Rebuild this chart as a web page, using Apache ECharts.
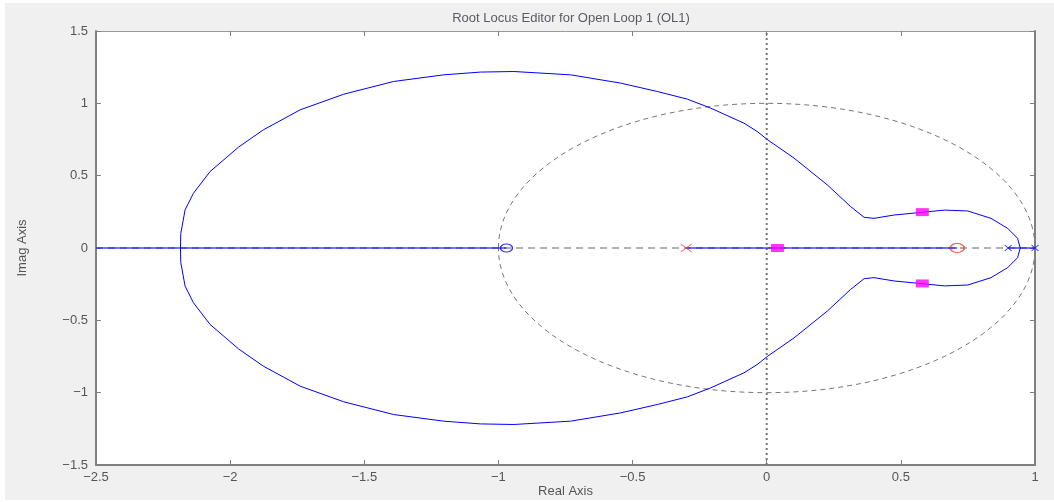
<!DOCTYPE html>
<html>
<head>
<meta charset="utf-8">
<title>Root Locus Editor for Open Loop 1 (OL1)</title>
<script src="https://cdn.jsdelivr.net/npm/echarts@6/dist/echarts.min.js"></script>
<style>
html, body { margin: 0; padding: 0; background: #ffffff; }
#echart { position: absolute; left: 5px; top: 3px; width: 1049px; height: 497px; background: #f0f0f0; }
</style>
</head>
<body>
<div id="echart"></div>
<script>
// axis ranges / ticks
var xTicks = [-2.5, -2, -1.5, -1, -0.5, 0, 0.5, 1];
var yTicks = [-1.5, -1, -0.5, 0, 0.5, 1, 1.5];

// locus branch, upper half
var upperBranch = [
	[-2.185, 0], [-2.184, 0.10], [-2.168, 0.263], [-2.137, 0.378], [-2.075, 0.528],
	[-1.969, 0.697], [-1.876, 0.817], [-1.739, 0.955], [-1.577, 1.063], [-1.391, 1.151],
	[-1.204, 1.197], [-1.067, 1.216], [-0.943, 1.220], [-0.731, 1.197], [-0.545, 1.140],
	[-0.408, 1.082], [-0.296, 1.029], [-0.209, 0.967], [-0.085, 0.863], [-0.035, 0.805],
	[0.002, 0.750], [0.102, 0.621], [0.226, 0.436], [0.313, 0.286], [0.363, 0.212],
	[0.400, 0.205], [0.475, 0.228], [0.581, 0.247], [0.662, 0.262], [0.749, 0.256],
	[0.836, 0.205], [0.898, 0.136], [0.935, 0.067], [0.945, 0]
];
// locus branch, lower half
var lowerBranch = [
	[-2.185, 0], [-2.184, -0.10], [-2.168, -0.263], [-2.137, -0.378], [-2.075, -0.528],
	[-1.969, -0.697], [-1.876, -0.817], [-1.739, -0.955], [-1.577, -1.063], [-1.391, -1.151],
	[-1.204, -1.197], [-1.067, -1.216], [-0.943, -1.220], [-0.731, -1.197], [-0.545, -1.140],
	[-0.408, -1.082], [-0.296, -1.029], [-0.209, -0.967], [-0.085, -0.863], [-0.035, -0.805],
	[0.002, -0.750], [0.102, -0.621], [0.226, -0.436], [0.313, -0.286], [0.363, -0.212],
	[0.400, -0.205], [0.475, -0.228], [0.581, -0.247], [0.662, -0.262], [0.749, -0.256],
	[0.836, -0.205], [0.898, -0.136], [0.935, -0.067], [0.945, 0]
];
// locus segments on the real axis
var realSeg1 = [[-2.5, 0], [-0.97, 0]];
var realSeg2 = [[-0.3, 0], [0.71, 0]];
var realSeg3 = [[0.9, 0], [1.0, 0]];

// reference lines
var realAxisLine = [[-2.5, 0], [1, 0]];
var imagAxisLine = [[0, -1.5], [0, 1.5]];
var unitCircle = [[0, 0, 1]]; // centre x, centre y, radius

// open loop poles / zeros
var compPoles = [[-0.3, 0]];
var compZeros = [[0.71, 0]];
var plantPoles = [[0.9, 0], [1.0, 0]];
var plantZeros = [[-0.97, 0]];
// closed loop poles
var closedPoles = [[0.04, 0], [0.58, 0.248], [0.58, -0.245]];

var fnt = 'Liberation Sans, Arial, sans-serif';
function fmt(v) { return String(v).replace('-', '\u2212'); }

var myChart = echarts.init(document.getElementById('echart'));

var crossPath = 'path://M0,0L10,8M10,0L0,8';
var ellPath = 'path://M0,5A5,5 0 1,1 10,5A5,5 0 1,1 0,5Z';

function locusLine(d, w, op) {
	return {
		type: 'line', data: d, showSymbol: false, symbol: 'none', z: 3,
		lineStyle: { color: '#0000ff', width: w, opacity: op }, animation: false
	};
}

var option = {
	backgroundColor: '#f0f0f0',
	animation: false,
	title: {
		text: 'Root Locus Editor for Open Loop 1 (OL1)',
		left: 561, top: 4, textAlign: 'center',
		textStyle: { fontFamily: fnt, fontSize: 13, fontWeight: 'normal', color: '#5a5a66' }
	},
	grid: {
		left: 91, right: 19, top: 28, bottom: 35,
		outerBoundsMode: 'none', containLabel: false,
		show: true, backgroundColor: '#ffffff', borderWidth: 0
	},
	xAxis: [{
		type: 'value', min: -2.5, max: 1, interval: 0.5, position: 'bottom',
		name: 'Real Axis', nameLocation: 'middle', nameGap: 20, nameMoveOverlap: false,
		nameTextStyle: { fontFamily: fnt, fontSize: 13, color: '#555' },
		axisLine: { show: true, onZero: false, lineStyle: { color: '#808080', width: 2 } },
		axisTick: { show: true, inside: true, length: 5, lineStyle: { color: '#808080' } },
		axisLabel: { fontFamily: fnt, fontSize: 13, color: '#555', margin: 6, formatter: fmt },
		splitLine: { show: false }
	}, {
		type: 'value', min: -2.5, max: 1, interval: 0.5, position: 'top',
		axisLine: { show: true, onZero: false, lineStyle: { color: '#999', width: 1 } },
		axisTick: { show: true, inside: true, length: 5, lineStyle: { color: '#808080' } },
		axisLabel: { show: false },
		splitLine: { show: false }
	}],
	yAxis: [{
		type: 'value', min: -1.5, max: 1.5, interval: 0.5, position: 'left',
		name: 'Imag Axis', nameLocation: 'middle', nameGap: 67, nameRotate: 90,
		nameTextStyle: { fontFamily: fnt, fontSize: 13, color: '#555' },
		axisLine: { show: true, onZero: false, lineStyle: { color: '#808080', width: 2 } },
		axisTick: { show: true, inside: true, length: 5, lineStyle: { color: '#808080' } },
		axisLabel: { fontFamily: fnt, fontSize: 13, color: '#555', margin: 8, formatter: fmt },
		splitLine: { show: false }
	}, {
		type: 'value', min: -1.5, max: 1.5, interval: 0.5, position: 'right',
		axisLine: { show: true, onZero: false, lineStyle: { color: '#808080', width: 2 } },
		axisTick: { show: true, inside: true, length: 5, lineStyle: { color: '#808080' } },
		axisLabel: { show: false },
		splitLine: { show: false }
	}],
	series: [
		{
			type: 'custom', data: unitCircle, z: 1, clip: false,
			renderItem: function (params, api) {
				var c = api.coord([api.value(0), api.value(1)]);
				var r = api.value(2);
				var e = api.coord([api.value(0) + r, api.value(1) + r]);
				return {
					type: 'ellipse',
					shape: { cx: c[0], cy: c[1], rx: e[0] - c[0], ry: c[1] - e[1] },
					style: { fill: 'none', stroke: '#777', lineWidth: 1, lineDash: [5, 4] }
				};
			}
		},
		{
			type: 'line', data: realAxisLine, showSymbol: false, symbol: 'none', z: 1,
			lineStyle: { color: '#999', width: 1.5, type: [7, 5] }
		},
		{
			type: 'line', data: imagAxisLine, showSymbol: false, symbol: 'none', z: 1,
			lineStyle: { color: '#777', width: 2, type: [2, 3] }
		},
		locusLine(realSeg1, 2, 0.55),
		locusLine(realSeg2, 2, 0.55),
		locusLine(realSeg3, 2, 0.55),
		locusLine(upperBranch, 1, 1),
		locusLine(lowerBranch, 1, 1),
		{
			type: 'scatter', data: compPoles, symbol: crossPath, symbolSize: [11, 8], z: 5, clip: false,
			itemStyle: { color: 'rgba(0,0,0,0)', borderColor: '#ff3333', borderWidth: 1 }
		},
		{
			type: 'scatter', data: compZeros, symbol: ellPath, symbolSize: [14, 9], z: 5, clip: false,
			itemStyle: { color: 'rgba(0,0,0,0)', borderColor: '#ff2222', borderWidth: 1.2 }
		},
		{
			type: 'scatter', data: plantPoles, symbol: crossPath, symbolSize: [7, 6], z: 5, clip: false,
			itemStyle: { color: 'rgba(0,0,0,0)', borderColor: '#0000ff', borderWidth: 1 }
		},
		{
			type: 'scatter', data: plantZeros, symbol: ellPath, symbolSize: [12, 8], z: 5, clip: false,
			itemStyle: { color: 'rgba(0,0,0,0)', borderColor: '#0000ff', borderWidth: 1.2 }
		},
		{
			type: 'scatter', data: closedPoles, symbol: 'rect', symbolSize: [13, 8], z: 6, clip: false,
			itemStyle: { color: '#ff00ff' }
		}
	]
};
myChart.setOption(option);
</script>
</body>
</html>
